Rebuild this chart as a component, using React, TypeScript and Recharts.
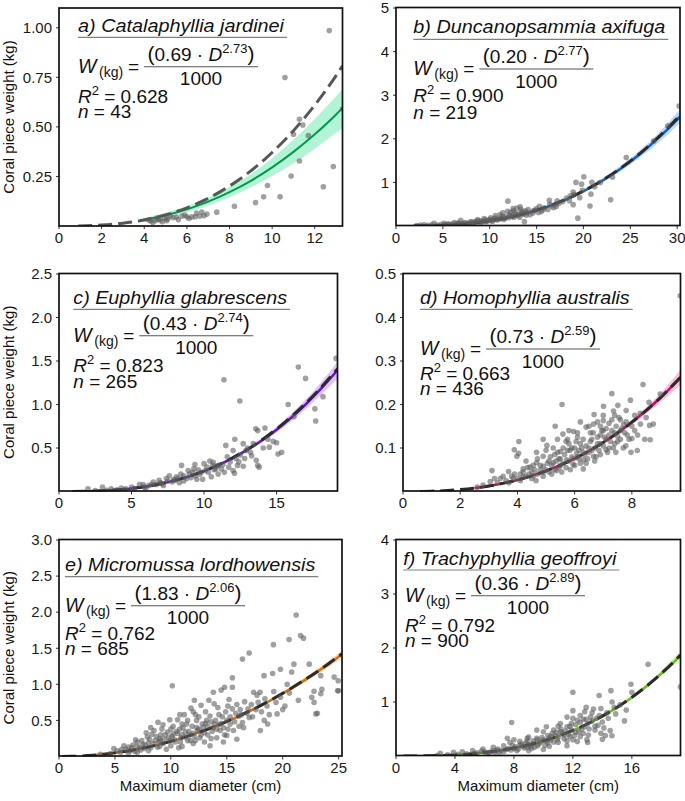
import React from 'react';
import { ComposedChart, Scatter, Line, Area, XAxis, YAxis } from 'recharts';

const FONT = '"Liberation Sans", Arial, Helvetica, sans-serif';

// ---- scatter points [diameter cm, weight kg] ----
const ptsA: [number, number][] = [
  [12.68, 0.986], [10.6, 0.749], [11.28, 0.539], [11.44, 0.51], [11.0, 0.463], [11.7, 0.456], [13.3, 0.59],
  [11.28, 0.328], [12.87, 0.3], [10.89, 0.252], [12.4, 0.198], [9.78, 0.204], [9.6, 0.147], [10.37, 0.147],
  [9.22, 0.118], [8.23, 0.1], [7.4, 0.07], [6.94, 0.06], [6.7, 0.071], [6.6, 0.05], [6.39, 0.047], [6.23, 0.046],
  [6.0, 0.047], [5.77, 0.05], [5.5, 0.045], [5.22, 0.05], [4.98, 0.039], [4.75, 0.03], [4.51, 0.027], [4.3, 0.025],
  [4.6, 0.04], [5.1, 0.035], [5.9, 0.055], [6.45, 0.065], [4.2, 0.03], [5.35, 0.042], [4.85, 0.022], [5.6, 0.032],
  [6.1, 0.038], [4.4, 0.018], [6.8, 0.052], [5.05, 0.027], [4.65, 0.033],
];

const ptsB: [number, number][] = [
  [30.2, 2.75], [24.57, 1.57], [20.04, 1.13], [19.8, 0.96], [19.2, 1.0], [20.9, 1.0], [23.1, 1.12], [18.9, 0.78],
  [18.6, 0.69], [19.6, 0.65], [20.8, 0.73], [20.7, 0.46], [22.9, 0.6], [19.4, 0.18], [18.9, 0.49], [11.94, 0.57],
  [16.36, 0.59], [17.4, 0.52], [17.1, 0.45], [15.2, 0.31], [14.66, 0.35], [13.8, 0.35], [13.25, 0.44], [12.9, 0.41],
  [12.5, 0.35], [12.2, 0.31], [13.7, 0.1], [13.2, 0.2], [11.1, 0.26], [10.6, 0.24], [10.1, 0.19], [9.4, 0.17],
  [8.7, 0.15], [6.9, 0.13], [6.2, 0.08], [5.1, 0.06], [4.05, 0.06], [3.0, 0.03], [2.2, 0.01], [2.6, 0.02],
  [3.4, 0.015], [3.8, 0.03], [4.4, 0.02], [4.8, 0.035], [5.4, 0.04], [5.8, 0.03], [6.4, 0.05], [6.7, 0.06],
  [7.2, 0.07], [7.6, 0.05], [7.9, 0.09], [8.2, 0.07], [8.5, 0.1], [8.9, 0.08], [9.1, 0.12], [9.6, 0.1],
  [9.9, 0.13], [10.3, 0.11], [10.4, 0.16], [10.8, 0.14], [11.2, 0.17], [11.5, 0.15], [11.7, 0.21], [12.0, 0.19],
  [12.3, 0.23], [12.6, 0.2], [12.8, 0.27], [13.0, 0.24], [13.4, 0.3], [13.6, 0.27], [14.0, 0.31], [14.3, 0.26],
  [14.8, 0.36], [15.0, 0.4], [15.5, 0.33], [15.8, 0.42], [16.2, 0.38], [16.6, 0.46], [17.0, 0.5], [17.8, 0.56],
  [18.2, 0.64], [18.5, 0.58], [19.0, 0.72], [19.9, 0.82], [21.2, 0.9], [21.8, 1.0], [27.5, 1.95], [29.0, 2.3],
  [5.2, 0.02], [5.6, 0.05], [6.0, 0.04], [6.6, 0.07], [7.0, 0.05], [7.4, 0.08], [7.8, 0.06], [8.1, 0.1],
  [8.4, 0.08], [8.8, 0.12], [9.2, 0.09], [9.5, 0.14], [9.7, 0.11], [10.0, 0.15], [10.2, 0.12], [10.6, 0.18],
  [10.9, 0.16], [11.3, 0.22], [11.6, 0.18], [12.1, 0.25], [12.4, 0.21], [12.7, 0.3], [13.1, 0.27], [13.5, 0.33],
  [13.9, 0.25], [14.1, 0.38], [14.6, 0.3], [15.3, 0.45], [15.7, 0.37], [16.4, 0.5], [16.8, 0.42], [17.2, 0.58],
  [11.9, 0.34], [11.4, 0.3], [12.5, 0.4], [13.3, 0.38],
];

const ptsC: [number, number][] = [
  [19.1, 1.53], [17.0, 1.3], [16.5, 1.43], [11.37, 1.285], [12.47, 1.04], [15.8, 1.0], [17.64, 0.95], [17.7, 0.81],
  [18.2, 1.09], [13.57, 0.72], [14.2, 0.73], [13.7, 0.7], [14.77, 0.576], [15.35, 0.45], [15.1, 0.43], [12.12, 0.6],
  [12.7, 0.55], [11.5, 0.53], [12.0, 0.47], [12.9, 0.47], [13.28, 0.41], [13.6, 0.36], [14.08, 0.5], [13.8, 0.28],
  [12.7, 0.29], [12.3, 0.3], [12.0, 0.24], [12.1, 0.21], [11.4, 0.22], [10.97, 0.2], [10.86, 0.29], [10.63, 0.335],
  [10.4, 0.35], [10.2, 0.28], [9.71, 0.2], [9.9, 0.14], [9.37, 0.31], [8.45, 0.3], [8.9, 0.24], [8.6, 0.18],
  [8.1, 0.17], [7.6, 0.18], [7.4, 0.15], [6.9, 0.13], [6.5, 0.11], [5.8, 0.08], [5.55, 0.08], [5.0, 0.05],
  [4.3, 0.04], [3.6, 0.03], [2.0, 0.03], [3.0, 0.05], [13.7, 0.3], [15.0, 0.56], [14.5, 0.51], [2.5, 0.01],
  [3.3, 0.015], [4.0, 0.02], [4.6, 0.03], [5.2, 0.035], [5.9, 0.05], [6.2, 0.07], [6.7, 0.08], [7.0, 0.1],
  [7.2, 0.07], [7.8, 0.11], [8.0, 0.13], [8.3, 0.1], [8.8, 0.15], [9.1, 0.16], [9.5, 0.14], [9.8, 0.22],
  [10.1, 0.24], [10.5, 0.17], [10.7, 0.25], [11.0, 0.3], [11.2, 0.26], [11.8, 0.34], [12.2, 0.38], [12.5, 0.42],
  [13.0, 0.5], [13.4, 0.55], [14.4, 0.6], [16.2, 0.86], [9.3, 0.26], [10.0, 0.32], [11.6, 0.4], [6.0, 0.04],
  [6.4, 0.08], [7.1, 0.09], [7.5, 0.12], [7.9, 0.14], [8.2, 0.15], [8.6, 0.12], [9.0, 0.2], [9.4, 0.18],
  [9.6, 0.25], [10.3, 0.22], [10.8, 0.26], [11.3, 0.31], [11.7, 0.28], [12.4, 0.34], [12.8, 0.38], [13.2, 0.45],
  [10.6, 0.3], [9.2, 0.22], [8.4, 0.2],
];

const ptsD: [number, number][] = [
  [9.69, 0.45], [8.39, 0.246], [7.3, 0.225], [5.56, 0.2], [7.01, 0.196], [7.51, 0.198], [7.36, 0.185], [7.8, 0.186],
  [6.68, 0.177], [8.29, 0.18], [8.99, 0.224], [8.62, 0.152], [8.64, 0.119], [8.19, 0.094], [8.0, 0.122], [7.84, 0.13],
  [7.71, 0.154], [5.32, 0.15], [5.59, 0.132], [5.03, 0.106], [3.89, 0.096], [3.98, 0.081], [4.04, 0.088], [3.11, 0.048],
  [3.69, 0.046], [3.05, 0.023], [3.4, 0.03], [4.05, 0.115], [5.96, 0.138], [6.1, 0.125], [6.4, 0.148], [6.66, 0.155],
  [7.0, 0.163], [7.2, 0.157], [7.3, 0.14], [7.5, 0.127], [7.79, 0.105], [7.97, 0.09], [7.44, 0.09], [7.1, 0.096],
  [6.66, 0.081], [6.31, 0.073], [6.07, 0.088], [5.84, 0.095], [5.5, 0.092], [4.9, 0.081], [4.67, 0.066], [4.44, 0.056],
  [4.2, 0.052], [4.9, 0.058], [5.25, 0.066], [5.72, 0.073], [5.95, 0.062], [6.3, 0.052], [5.37, 0.048], [4.9, 0.044],
  [4.56, 0.036], [4.2, 0.033], [3.85, 0.03], [4.3, 0.07], [4.67, 0.09], [5.1, 0.07], [5.3, 0.085], [5.5, 0.06],
  [5.6, 0.1], [5.8, 0.11], [6.0, 0.1], [6.2, 0.11], [6.3, 0.09], [6.5, 0.1], [6.6, 0.12], [6.8, 0.11],
  [6.9, 0.13], [7.1, 0.12], [7.2, 0.1], [7.4, 0.11], [7.6, 0.14], [6.4, 0.065], [6.7, 0.07], [6.9, 0.085],
  [5.2, 0.04], [4.8, 0.05], [4.5, 0.045], [4.1, 0.04], [3.8, 0.035], [3.6, 0.025], [3.3, 0.02], [2.8, 0.015],
  [2.6, 0.01], [5.9, 0.08], [6.15, 0.075], [5.45, 0.075], [5.0, 0.095], [4.7, 0.075], [6.9, 0.15], [7.6, 0.165],
  [7.0, 0.14], [8.45, 0.12], [8.1, 0.14], [5.75, 0.12], [6.55, 0.135], [8.6, 0.205], [7.95, 0.21], [8.75, 0.155],
  [4.5, 0.03], [4.6, 0.05], [4.7, 0.04], [4.8, 0.06], [4.9, 0.035], [5.0, 0.05], [5.05, 0.065], [5.1, 0.045],
  [5.15, 0.08], [5.2, 0.06], [5.3, 0.05], [5.35, 0.07], [5.4, 0.09], [5.45, 0.055], [5.5, 0.075], [5.55, 0.045],
  [5.6, 0.065], [5.65, 0.085], [5.7, 0.055], [5.75, 0.095], [5.8, 0.07], [5.85, 0.05], [5.9, 0.1], [5.95, 0.075],
  [6.0, 0.06], [6.05, 0.115], [6.1, 0.08], [6.15, 0.095], [6.2, 0.065], [6.25, 0.1], [6.3, 0.12], [6.35, 0.085],
  [6.4, 0.105], [6.45, 0.075], [6.5, 0.09], [6.55, 0.115], [6.6, 0.095], [6.65, 0.135], [6.7, 0.1], [6.75, 0.08],
  [6.8, 0.125], [6.85, 0.095], [6.9, 0.11], [6.95, 0.14], [7.0, 0.105], [7.05, 0.125], [7.1, 0.145], [7.15, 0.09],
  [7.2, 0.13], [7.25, 0.115], [7.3, 0.165], [7.35, 0.1], [7.4, 0.135], [7.45, 0.15], [7.5, 0.115], [7.55, 0.17],
  [7.6, 0.12], [7.65, 0.145], [7.7, 0.1], [7.75, 0.135], [7.8, 0.16], [7.9, 0.12], [8.0, 0.15], [8.1, 0.175],
  [8.2, 0.13], [8.3, 0.155], [8.5, 0.17], [4.0, 0.03], [4.1, 0.025], [4.2, 0.045], [4.3, 0.035], [4.35, 0.055],
  [4.4, 0.04], [4.55, 0.06], [4.65, 0.025], [3.7, 0.02], [3.9, 0.04], [3.5, 0.035], [3.2, 0.03], [5.25, 0.1],
  [5.7, 0.115], [6.1, 0.135], [6.5, 0.15], [6.2, 0.16], [5.8, 0.14], [7.0, 0.175], [6.8, 0.16], [7.4, 0.175],
  [5.4, 0.12], [4.9, 0.12],
];

const ptsE: [number, number][] = [
  [21.2, 1.96], [21.6, 1.675], [21.86, 1.64], [20.57, 1.62], [19.17, 1.55], [17.0, 1.435], [16.4, 1.35], [10.13, 0.98],
  [15.5, 1.09], [14.8, 0.96], [15.5, 0.96], [18.33, 1.12], [19.1, 1.15], [19.8, 1.21], [20.8, 1.17], [22.37, 1.28],
  [21.0, 1.28], [23.4, 1.12], [24.96, 1.05], [24.9, 0.91], [23.5, 0.93], [22.8, 0.905], [22.6, 0.82], [22.96, 0.59],
  [22.8, 0.75], [20.4, 1.0], [19.8, 0.82], [20.2, 0.7], [19.5, 0.59], [18.0, 0.36], [17.4, 0.89], [17.97, 0.89],
  [18.4, 0.8], [17.6, 0.65], [17.0, 0.54], [16.4, 0.47], [16.1, 0.56], [15.2, 0.79], [14.5, 0.92], [13.8, 0.89],
  [13.87, 0.73], [13.4, 0.78], [12.7, 0.71], [12.1, 0.78], [11.8, 0.67], [12.2, 0.58], [11.2, 0.58], [10.8, 0.58],
  [10.6, 0.51], [9.9, 0.51], [8.85, 0.475], [7.9, 0.27], [6.85, 0.23], [8.3, 0.31], [9.05, 0.22], [10.2, 0.31],
  [10.8, 0.38], [11.4, 0.45], [12.3, 0.4], [13.2, 0.5], [13.8, 0.4], [14.4, 0.36], [15.0, 0.29], [15.6, 0.36],
  [16.5, 0.4], [12.6, 0.26], [11.75, 0.22], [10.85, 0.2], [10.0, 0.15], [8.8, 0.13], [7.6, 0.11], [6.4, 0.08],
  [5.5, 0.06], [4.6, 0.04], [3.7, 0.03], [4.9, 0.11], [5.8, 0.15], [13.5, 0.15], [14.7, 0.2], [15.9, 0.24],
  [14.1, 0.26], [18.35, 0.5], [18.65, 0.45], [24.6, 1.1], [25.0, 0.91], [23.4, 0.87], [23.1, 0.6], [6.0, 0.1],
  [6.5, 0.12], [7.0, 0.14], [7.3, 0.09], [7.5, 0.17], [8.0, 0.19], [8.2, 0.12], [8.6, 0.22], [9.0, 0.25],
  [9.3, 0.18], [9.5, 0.3], [9.8, 0.26], [10.3, 0.24], [10.5, 0.35], [11.0, 0.3], [11.3, 0.27], [11.6, 0.35],
  [12.0, 0.32], [12.4, 0.36], [12.8, 0.45], [13.0, 0.33], [13.3, 0.42], [13.6, 0.48], [14.0, 0.5], [14.3, 0.44],
  [14.6, 0.55], [15.0, 0.5], [15.3, 0.45], [15.8, 0.6], [16.2, 0.65], [16.8, 0.6], [17.2, 0.72], [17.8, 0.75],
  [18.6, 0.7], [19.2, 0.9], [11.5, 0.5], [10.2, 0.42], [9.2, 0.38], [8.5, 0.36], [7.8, 0.33], [7.0, 0.2],
  [12.5, 0.55], [13.1, 0.62], [14.2, 0.68], [15.1, 0.7], [9.6, 0.1], [11.0, 0.14], [12.0, 0.18], [13.0, 0.2],
  [5.2, 0.08], [5.6, 0.1], [6.2, 0.13], [6.6, 0.16], [6.8, 0.07], [7.2, 0.12], [7.4, 0.22], [7.7, 0.16],
  [8.1, 0.24], [8.4, 0.18], [8.7, 0.28], [8.9, 0.2], [9.1, 0.3], [9.4, 0.24], [9.7, 0.34], [9.9, 0.22],
  [10.1, 0.28], [10.4, 0.2], [10.6, 0.32], [10.9, 0.26], [11.1, 0.4], [11.3, 0.34], [11.5, 0.22], [11.7, 0.3],
  [11.9, 0.42], [12.1, 0.28], [12.3, 0.5], [12.5, 0.38], [12.7, 0.3], [12.9, 0.4], [13.1, 0.46], [13.3, 0.3],
  [13.5, 0.56], [13.7, 0.35], [13.9, 0.45], [14.1, 0.38], [14.3, 0.58], [14.5, 0.46], [14.7, 0.4], [14.9, 0.62],
  [15.1, 0.38], [15.3, 0.55], [15.5, 0.66], [15.7, 0.48], [15.9, 0.72], [16.1, 0.42], [16.3, 0.58], [16.6, 0.76],
  [16.9, 0.66], [17.3, 0.55], [17.7, 0.85], [18.1, 0.62], [18.8, 0.58], [19.4, 0.75], [20.0, 0.65], [20.6, 0.88],
  [21.4, 0.78], [9.0, 0.14], [10.7, 0.12], [12.2, 0.22], [8.0, 0.08], [6.2, 0.05], [7.0, 0.06], [13.6, 0.25],
  [14.8, 0.3], [11.0, 0.45], [10.0, 0.38], [9.3, 0.44], [12.0, 0.62], [8.2, 0.4],
];

const ptsF: [number, number][] = [
  [17.1, 1.7], [15.94, 1.33], [14.58, 1.21], [16.0, 1.18], [13.78, 1.12], [12.0, 1.18], [14.66, 1.0], [15.62, 0.85],
  [15.5, 0.65], [14.53, 0.47], [14.65, 0.376], [14.2, 0.38], [14.0, 0.31], [13.4, 0.87], [12.9, 0.9], [13.2, 0.72],
  [12.5, 0.75], [12.0, 0.84], [11.6, 0.72], [12.3, 0.66], [12.8, 0.54], [13.5, 0.48], [13.7, 0.57], [13.05, 0.39],
  [14.0, 0.63], [11.6, 0.54], [11.15, 0.6], [11.15, 0.45], [10.7, 0.48], [10.2, 0.54], [10.5, 0.36], [9.55, 0.48],
  [9.55, 0.33], [8.9, 0.33], [8.4, 0.27], [7.85, 0.62], [7.55, 0.33], [7.73, 0.25], [7.3, 0.19], [6.6, 0.16],
  [5.9, 0.13], [5.2, 0.1], [4.5, 0.08], [3.9, 0.07], [3.0, 0.05], [11.6, 0.19], [12.3, 0.27], [12.5, 0.36],
  [12.95, 0.3], [13.9, 0.42], [10.3, 0.24], [9.6, 0.19], [8.9, 0.16], [10.95, 0.3], [11.4, 0.39], [11.9, 0.48],
  [19.3, 1.28], [5.5, 0.06], [6.0, 0.08], [6.3, 0.05], [6.8, 0.1], [7.0, 0.07], [7.5, 0.12], [8.0, 0.14],
  [8.2, 0.1], [8.6, 0.18], [9.0, 0.21], [9.2, 0.14], [9.8, 0.26], [10.0, 0.3], [10.1, 0.2], [10.4, 0.33],
  [10.8, 0.38], [11.0, 0.25], [11.3, 0.42], [11.8, 0.36], [12.2, 0.44], [12.6, 0.5], [13.0, 0.6], [13.3, 0.65],
  [13.6, 0.7], [8.4, 0.2], [9.3, 0.28], [10.6, 0.42], [11.9, 0.6], [12.7, 0.68], [14.3, 0.8], [14.8, 0.9],
  [4.8, 0.04], [4.2, 0.03], [3.5, 0.02], [2.8, 0.01], [10.0, 0.12], [9.0, 0.1], [12.0, 0.3], [13.0, 0.25],
  [6.2, 0.06], [6.5, 0.09], [6.7, 0.07], [7.1, 0.1], [7.3, 0.08], [7.6, 0.14], [7.8, 0.11], [8.1, 0.17],
  [8.3, 0.13], [8.5, 0.22], [8.7, 0.15], [8.8, 0.24], [9.1, 0.18], [9.3, 0.23], [9.4, 0.16], [9.6, 0.3],
  [9.7, 0.22], [9.9, 0.34], [10.2, 0.28], [10.3, 0.38], [10.5, 0.3], [10.7, 0.26], [10.9, 0.44], [11.0, 0.35],
  [11.2, 0.5], [11.4, 0.32], [11.5, 0.46], [11.7, 0.4], [11.8, 0.55], [12.1, 0.38], [12.2, 0.58], [12.4, 0.45],
  [12.5, 0.62], [12.7, 0.42], [12.9, 0.68], [13.1, 0.5], [13.3, 0.8], [13.5, 0.55], [13.8, 0.75], [14.1, 0.52],
  [14.4, 0.7], [14.9, 0.78], [15.2, 0.95], [8.0, 0.3], [9.0, 0.35], [10.0, 0.45], [11.0, 0.55], [12.0, 0.7],
  [10.4, 0.18], [11.6, 0.28], [7.9, 0.2], [8.9, 0.27], [6.9, 0.13], [5.8, 0.09], [5.3, 0.05], [12.8, 0.82],
  [13.9, 0.88],
];

// ---- published equation (dashed) [D, W] ----
const dashA: [number, number][] = [[0.9, 0.0005], [2, 0.0046], [3, 0.0138], [4, 0.0304], [5, 0.0558], [6, 0.0918], [7, 0.14], [8, 0.2015], [9, 0.278], [10, 0.371], [11, 0.481], [12, 0.61], [13, 0.759], [13.3, 0.808]];
const dashB: [number, number][] = [[1.9, 0.0012], [3, 0.0042], [4, 0.0093], [5, 0.0173], [6, 0.0286], [8, 0.0635], [10, 0.118], [12, 0.195], [14, 0.299], [16, 0.433], [18, 0.6], [20, 0.803], [22, 1.046], [24, 1.331], [26, 1.661], [28, 2.04], [30, 2.47], [30.3, 2.54]];
const dashC: [number, number][] = [[0.9, 0.0003], [2, 0.0029], [3, 0.0087], [4, 0.0192], [5, 0.0354], [6, 0.0583], [7, 0.0889], [8, 0.128], [9, 0.177], [10, 0.236], [11, 0.307], [12, 0.39], [13, 0.485], [14, 0.594], [15, 0.718], [16, 0.857], [17, 1.012], [18, 1.183], [19, 1.373], [19.2, 1.41]];
const dashD: [number, number][] = [[0.6, 0.0002], [1, 0.0007], [2, 0.0044], [3, 0.0126], [4, 0.0265], [5, 0.0472], [6, 0.0756], [7, 0.1128], [8, 0.1594], [9, 0.216], [9.7, 0.2625]];
const dashE: [number, number][] = [[0.3, 0.0002], [1, 0.0018], [2, 0.0076], [3, 0.0176], [4, 0.0318], [5, 0.0504], [6, 0.0733], [8, 0.1327], [10, 0.21], [12, 0.306], [14, 0.42], [16, 0.554], [18, 0.705], [20, 0.876], [22, 1.066], [24, 1.275], [25.3, 1.423]];
const dashF: [number, number][] = [[0.5, 0.0001], [1, 0.0004], [2, 0.0027], [3, 0.0086], [4, 0.0198], [5, 0.0377], [6, 0.0639], [7, 0.0997], [8, 0.1467], [9, 0.206], [10, 0.279], [11, 0.368], [12, 0.473], [13, 0.597], [14, 0.739], [15, 0.901], [16, 1.087], [17, 1.294], [18, 1.528], [19, 1.787], [19.3, 1.871]];

// ---- fitted curve (solid, coloured) [D, W] ----
const fitA: [number, number][] = [[3.8, 0.027], [4, 0.031], [5, 0.054], [6, 0.084], [7, 0.123], [8, 0.171], [9, 0.228], [10, 0.296], [11, 0.374], [12, 0.463], [13, 0.563], [13.3, 0.596]];
const fitB: [number, number][] = [[1.9, 0.0013], [3, 0.0043], [4, 0.0095], [5, 0.0176], [6, 0.029], [8, 0.064], [10, 0.118], [12, 0.194], [14, 0.297], [16, 0.43], [18, 0.595], [20, 0.797], [22, 1.037], [24, 1.32], [26, 1.645], [28, 2.02], [30, 2.44], [30.3, 2.51]];
const fitC: [number, number][] = [[1, 0.0004], [2, 0.003], [3, 0.009], [4, 0.0195], [5, 0.0356], [6, 0.0585], [7, 0.089], [8, 0.128], [9, 0.176], [10, 0.235], [11, 0.305], [12, 0.387], [13, 0.481], [14, 0.589], [15, 0.711], [16, 0.848], [17, 1.0], [18, 1.17], [19, 1.356], [19.2, 1.395]];
const fitD: [number, number][] = [[2.5, 0.0078], [3, 0.0127], [4, 0.0266], [5, 0.0473], [6, 0.0755], [7, 0.1125], [8, 0.159], [9, 0.2155], [9.7, 0.262]];
const fitE: [number, number][] = [[3.3, 0.022], [4, 0.032], [5, 0.0505], [6, 0.0735], [8, 0.133], [10, 0.21], [12, 0.306], [14, 0.42], [16, 0.553], [18, 0.703], [20, 0.873], [22, 1.062], [24, 1.27], [25.3, 1.418]];
const fitF: [number, number][] = [[3, 0.009], [4, 0.02], [5, 0.038], [6, 0.064], [7, 0.1], [8, 0.147], [9, 0.206], [10, 0.279], [11, 0.368], [12, 0.473], [13, 0.597], [14, 0.739], [15, 0.9], [16, 1.085], [17, 1.292], [18, 1.525], [19, 1.782], [19.3, 1.866]];

// ---- confidence band [D, low, high] ----
const bandA: [number, number, number][] = [[3.8, 0.018, 0.037], [4, 0.021, 0.041], [5, 0.041, 0.067], [6, 0.068, 0.1], [7, 0.103, 0.144], [8, 0.145, 0.198], [9, 0.195, 0.262], [10, 0.252, 0.342], [11, 0.315, 0.435], [12, 0.39, 0.54], [13, 0.47, 0.655], [13.3, 0.495, 0.69]];
const bandB: [number, number, number][] = [[1.9, 0.0005, 0.0025], [4, 0.007, 0.012], [6, 0.025, 0.033], [8, 0.059, 0.069], [10, 0.111, 0.125], [12, 0.185, 0.203], [14, 0.284, 0.31], [16, 0.412, 0.448], [18, 0.568, 0.622], [20, 0.762, 0.832], [22, 0.99, 1.085], [24, 1.26, 1.385], [26, 1.565, 1.73], [28, 1.91, 2.13], [30.3, 2.36, 2.67]];
const bandC: [number, number, number][] = [[1, 0, 0.001], [4, 0.017, 0.022], [6, 0.055, 0.062], [8, 0.122, 0.134], [10, 0.226, 0.244], [12, 0.372, 0.402], [14, 0.563, 0.615], [16, 0.805, 0.892], [18, 1.1, 1.24], [19.2, 1.3, 1.49]];
const bandD: [number, number, number][] = [[2.5, 0.006, 0.0095], [3, 0.011, 0.014], [4, 0.025, 0.028], [5, 0.0455, 0.049], [6, 0.073, 0.078], [7, 0.109, 0.116], [8, 0.153, 0.165], [9, 0.205, 0.226], [9.7, 0.245, 0.28]];
const bandE: [number, number, number][] = [[3.3, 0.018, 0.026], [5, 0.046, 0.055], [8, 0.127, 0.139], [10, 0.203, 0.217], [12, 0.298, 0.314], [14, 0.41, 0.43], [16, 0.54, 0.567], [18, 0.686, 0.72], [20, 0.85, 0.896], [22, 1.03, 1.094], [24, 1.228, 1.312], [25.3, 1.37, 1.47]];
const bandF: [number, number, number][] = [[3, 0.007, 0.011], [6, 0.061, 0.067], [9, 0.2, 0.212], [12, 0.463, 0.483], [15, 0.88, 0.92], [17, 1.26, 1.33], [19.3, 1.8, 1.94]];

// ---- ticks ----
const xTicksA = [0, 2, 4, 6, 8, 10, 12];
const xTicksB = [0, 5, 10, 15, 20, 25, 30];
const xTicksC = [0, 5, 10, 15];
const xTicksD = [0, 2, 4, 6, 8];
const xTicksE = [0, 5, 10, 15, 20, 25];
const xTicksF = [0, 4, 8, 12, 16];
const yTicksA = [0.25, 0.5, 0.75, 1.0];
const yTicksB = [1, 2, 3, 4, 5];
const yTicksC = [0.5, 1.0, 1.5, 2.0, 2.5];
const yTicksD = [0.1, 0.2, 0.3, 0.4, 0.5];
const yTicksE = [0.5, 1.0, 1.5, 2.0, 2.5, 3.0];
const yTicksF = [1, 2, 3, 4];

// ---- labels ----
const titles = ['a) Catalaphyllia jardinei', 'b) Duncanopsammia axifuga', 'c) Euphyllia glabrescens', 'd) Homophyllia australis', 'e) Micromussa lordhowensis', 'f) Trachyphyllia geoffroyi'];
const coefA = ['0.69', '0.20', '0.43', '0.73', '1.83', '0.36'];
const coefB = ['2.73', '2.77', '2.74', '2.59', '2.06', '2.89'];
const r2s = ['0.628', '0.900', '0.823', '0.663', '0.762', '0.792'];
const ns = ['43', '219', '265', '436', '685', '900'];

type Panel = {
  L: number; T: number; R: number; B: number;
  xMax: number; yMax: number;
  xTicks: number[]; yTicks: number[]; yDec: number;
  pts: [number, number][]; dash: [number, number][]; fit: [number, number][]; band: [number, number, number][];
  line: string; bandFill: string; dashColor: string; lineW: number;
  tx: number; titleY: number; ulY: number; ulEnd: number; eqX: number; eqY: number; r2Y: number; nY: number;
};

const panels: Panel[] = [
  { L: 59, T: 8, R: 342.5, B: 226, xMax: 13.3, yMax: 1.1, xTicks: xTicksA, yTicks: yTicksA, yDec: 2,
    pts: ptsA, dash: dashA, fit: fitA, band: bandA, line: '#00994d', bandFill: '#a6f2cf', dashColor: '#575757', lineW: 2,
    tx: 19, titleY: 24, ulY: 29.3, ulEnd: 228, eqX: 19, eqY: 64.7, r2Y: 94.7, nY: 110.3 },
  { L: 396, T: 7.5, R: 680, B: 225.5, xMax: 30.3, yMax: 5, xTicks: xTicksB, yTicks: yTicksB, yDec: 0,
    pts: ptsB, dash: dashB, fit: fitB, band: bandB, line: '#1060c8', bandFill: '#a9d2fb', dashColor: '#2b2b2b', lineW: 2.5,
    tx: 17.3, titleY: 25.8, ulY: 31.8, ulEnd: 272.3, eqX: 17.3, eqY: 67.5, r2Y: 94.2, nY: 111.5 },
  { L: 59, T: 273.5, R: 337.5, B: 491, xMax: 19.2, yMax: 2.5, xTicks: xTicksC, yTicks: yTicksC, yDec: 1,
    pts: ptsC, dash: dashC, fit: fitC, band: bandC, line: '#6610d0', bandFill: '#d8bbf7', dashColor: '#2b2b2b', lineW: 2.5,
    tx: 14.3, titleY: 30.8, ulY: 35.8, ulEnd: 231, eqX: 14.3, eqY: 68.2, r2Y: 98.2, nY: 114.8 },
  { L: 403, T: 273.5, R: 680.5, B: 491, xMax: 9.7, yMax: 0.5, xTicks: xTicksD, yTicks: yTicksD, yDec: 1,
    pts: ptsD, dash: dashD, fit: fitD, band: bandD, line: '#d4006a', bandFill: '#f7b6d5', dashColor: '#2b2b2b', lineW: 2.5,
    tx: 17, titleY: 30.8, ulY: 35.8, ulEnd: 229.7, eqX: 17, eqY: 81.5, r2Y: 106.5, nY: 121.5 },
  { L: 59, T: 539.5, R: 342, B: 756, xMax: 25.3, yMax: 3, xTicks: xTicksE, yTicks: yTicksE, yDec: 1,
    pts: ptsE, dash: dashE, fit: fitE, band: bandE, line: '#d2700a', bandFill: '#fdd2a6', dashColor: '#2b2b2b', lineW: 2.5,
    tx: 6, titleY: 31.2, ulY: 37.2, ulEnd: 259.3, eqX: 6, eqY: 72.2, r2Y: 100.5, nY: 115.5 },
  { L: 396, T: 539.5, R: 680.5, B: 755.5, xMax: 19.3, yMax: 4, xTicks: xTicksF, yTicks: yTicksF, yDec: 0,
    pts: ptsF, dash: dashF, fit: fitF, band: bandF, line: '#66c21a', bandFill: '#cbf0a6', dashColor: '#2b2b2b', lineW: 2.5,
    tx: 7.3, titleY: 25.5, ulY: 30.5, ulEnd: 223.3, eqX: 9, eqY: 62.2, r2Y: 92.2, nY: 107.2 },
];

const YW = 50;
const MT = 12;
const MR = 10;
const XH = 30;

const dot = (p: any) => <circle cx={p.cx} cy={p.cy} r={2.8} fill="#5c5c5c" fillOpacity={0.58} />;

function PanelChart({ p }: { p: Panel }) {
  const w = p.R - p.L + YW + MR;
  const h = p.B - p.T + MT + XH;
  const pts = p.pts.map(([d, v]) => ({ d, w: v }));
  const dash = p.dash.map(([d, v]) => ({ d, w: v }));
  const fit = p.fit.map(([d, v]) => ({ d, w: v }));
  const band = p.band.map(([d, lo, hi]) => ({ d, band: [lo, hi] }));
  const tick = { fontSize: 15, fill: '#1a1a1a', fontFamily: FONT };
  return (
    <div style={{ position: 'absolute', left: p.L - YW, top: p.T - MT, width: w, height: h }}>
      <ComposedChart width={w} height={h} margin={{ top: MT, right: MR, left: 0, bottom: 0 }}>
        <XAxis dataKey="d" type="number" domain={[0, p.xMax]} ticks={p.xTicks} allowDataOverflow
          interval={0} height={XH} tickSize={3} tickMargin={3} axisLine={false}
          tickLine={{ stroke: '#333' }} tick={tick} />
        <YAxis dataKey="w" type="number" domain={[0, p.yMax]} ticks={p.yTicks} allowDataOverflow
          interval={0} width={YW} tickSize={3} tickMargin={4} axisLine={false}
          tickLine={{ stroke: '#333' }} tick={tick} tickFormatter={(v: number) => v.toFixed(p.yDec)} />
        <Area data={band} dataKey="band" type="monotone" stroke="none" fill={p.bandFill}
          fillOpacity={0.85} isAnimationActive={false} activeDot={false} />
        <Scatter data={pts} shape={dot} isAnimationActive={false} />
        <Line data={fit} dataKey="w" type="monotone" stroke={p.line} strokeWidth={p.lineW}
          dot={false} activeDot={false} isAnimationActive={false} />
        <Line data={dash} dataKey="w" type="monotone" stroke={p.dashColor} strokeWidth={3}
          strokeDasharray="14 6" dot={false} activeDot={false} isAnimationActive={false} />
      </ComposedChart>
    </div>
  );
}

function Annot({ p, i }: { p: Panel; i: number }) {
  const x = p.L + p.eqX;
  const y = p.T + p.eqY;
  const fx = x + 123;
  return (
    <g fill="#111">
      <text x={p.L + p.tx} y={p.T + p.titleY} fontSize={18} fontStyle="italic"
        textLength={p.ulEnd - p.tx - 3} lengthAdjust="spacingAndGlyphs">{titles[i]}</text>
      <line x1={p.L + p.tx} x2={p.L + p.ulEnd} y1={p.T + p.ulY} y2={p.T + p.ulY} stroke="#808080" strokeWidth={1.2} />
      <text x={x} y={y} fontSize={19.5} fontStyle="italic">W</text>
      <text x={x + 21} y={y + 4} fontSize={14}>(kg)</text>
      <text x={x + 50} y={y} fontSize={19}>=</text>
      <line x1={x + 66} x2={x + 180} y1={y - 6} y2={y - 6} stroke="#555" strokeWidth={1.1} />
      <text x={fx} y={y - 12} fontSize={19} textAnchor="middle">
        <tspan fontSize={21}>(</tspan>
        <tspan>{coefA[i]} · </tspan>
        <tspan fontStyle="italic">D</tspan>
        <tspan dy={-8} fontSize={13}>{coefB[i]}</tspan>
        <tspan dy={8} fontSize={21}>)</tspan>
      </text>
      <text x={fx} y={y + 12.5} fontSize={19} textAnchor="middle">1000</text>
      <text x={x} y={p.T + p.r2Y} fontSize={19}>
        <tspan fontStyle="italic">R</tspan>
        <tspan dy={-8} fontSize={13}>2</tspan>
        <tspan dy={8}>{' = ' + r2s[i]}</tspan>
      </text>
      <text x={x} y={p.T + p.nY} fontSize={19}>
        <tspan fontStyle="italic">n</tspan>
        <tspan>{' = ' + ns[i]}</tspan>
      </text>
      <rect x={p.L} y={p.T} width={p.R - p.L} height={p.B - p.T} fill="none" stroke="#111" strokeWidth={1.7} />
    </g>
  );
}

export default function App() {
  return (
    <div style={{ position: 'absolute', left: 0, top: 0, width: 685, height: 801, background: '#fff', fontFamily: FONT, overflow: 'hidden' }}>
      {panels.map((p, i) => <PanelChart key={i} p={p} />)}
      <svg width={685} height={801} style={{ position: 'absolute', left: 0, top: 0, pointerEvents: 'none', fontFamily: FONT }}>
        {panels.map((p, i) => <Annot key={i} p={p} i={i} />)}
        {[panels[0], panels[2], panels[4]].map((p, i) => (
          <text key={i} transform={`translate(14, ${(p.T + p.B) / 2}) rotate(-90)`} textAnchor="middle" fontSize={15} fill="#111">
            Coral piece weight (kg)
          </text>
        ))}
        {[panels[4], panels[5]].map((p, i) => (
          <text key={i} x={(p.L + p.R) / 2} y={791} textAnchor="middle" fontSize={15} fill="#111">
            Maximum diameter (cm)
          </text>
        ))}
      </svg>
    </div>
  );
}
